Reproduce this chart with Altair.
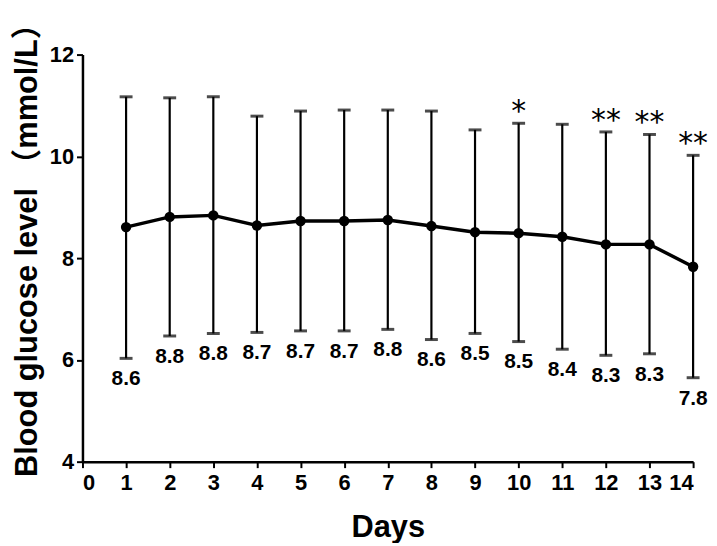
import altair as alt
import pandas as pd

days = list(range(1, 15))
mean = [8.61, 8.81, 8.84, 8.64, 8.73, 8.73, 8.75, 8.63, 8.51, 8.49, 8.42, 8.27, 8.27, 7.83]
upper = [11.17, 11.15, 11.17, 10.79, 10.89, 10.91, 10.91, 10.89, 10.52, 10.65, 10.63, 10.48, 10.43, 10.02]
lower = [6.03, 6.47, 6.52, 6.54, 6.57, 6.57, 6.60, 6.40, 6.52, 6.36, 6.21, 6.09, 6.12, 5.65]
labels = ["8.6", "8.8", "8.8", "8.7", "8.7", "8.7", "8.8", "8.6", "8.5", "8.5", "8.4", "8.3", "8.3", "7.8"]
stars = ["", "", "", "", "", "", "", "", "", "*", "", "**", "**", "**"]
x_ticks = list(range(0, 15))
y_ticks = [4, 6, 8, 10, 12]

df = pd.DataFrame({"day": days, "mean": mean, "upper": upper, "lower": lower,
                   "label": labels, "star": stars})

FONT = "Liberation Sans, Arial, Noto Sans CJK SC"

x_enc = alt.X("day:Q", scale=alt.Scale(domain=[0, 14], nice=False, zero=False),
              axis=alt.Axis(values=x_ticks, title="Days", titleFontSize=31,
                            titleY=75, titleBaseline="alphabetic",
                            labelFontSize=22, labelPadding=5))

def y_enc(field):
    return alt.Y(field, type="quantitative",
                 scale=alt.Scale(domain=[4, 12], nice=False, zero=False),
                 axis=alt.Axis(values=y_ticks, title="Blood glucose level （mmol/L）",
                               titleFontSize=31, titleX=-46, titleY=189,
                               titleBaseline="alphabetic",
                               labelFontSize=22, labelPadding=3))

base = alt.Chart(df).encode(x=x_enc)

rule = base.mark_rule(color="black", strokeWidth=2.2).encode(y=y_enc("lower"), y2="upper:Q")
cap_u = base.mark_tick(orient="horizontal", size=13, thickness=3, color="black").encode(y=y_enc("upper"))
cap_l = base.mark_tick(orient="horizontal", size=13, thickness=3, color="black").encode(y=y_enc("lower"))
line = base.mark_line(color="black", strokeWidth=3.5).encode(y=y_enc("mean"))
pts = base.mark_point(filled=True, color="black", size=110, opacity=1).encode(y=y_enc("mean"))
txt = base.mark_text(dy=21, fontSize=21, fontWeight="bold", font=FONT, color="black",
                     baseline="middle").encode(y=y_enc("lower"), text="label:N")
star = base.mark_text(dy=-11, fontSize=30, font="DejaVu Sans", color="black",
                      baseline="middle").encode(y=y_enc("upper"), text="star:N")

chart = alt.layer(rule, cap_u, cap_l, line, pts, txt, star).properties(
    width=615, height=410,
    autosize=alt.AutoSizeParams(type="none"),
    padding={"left": 75, "top": 45, "right": 16, "bottom": 80},
).configure_view(stroke=None).configure_axis(
    grid=False, domainColor="black", domainWidth=2.5, tickColor="black", tickWidth=2,
    tickSize=6, labelFont=FONT, labelFontWeight="bold",
    labelColor="black", titleFont=FONT, titleFontWeight="bold",
    titleColor="black",
)

chart.save("out.html", embed_options={"renderer": "svg", "actions": False})
